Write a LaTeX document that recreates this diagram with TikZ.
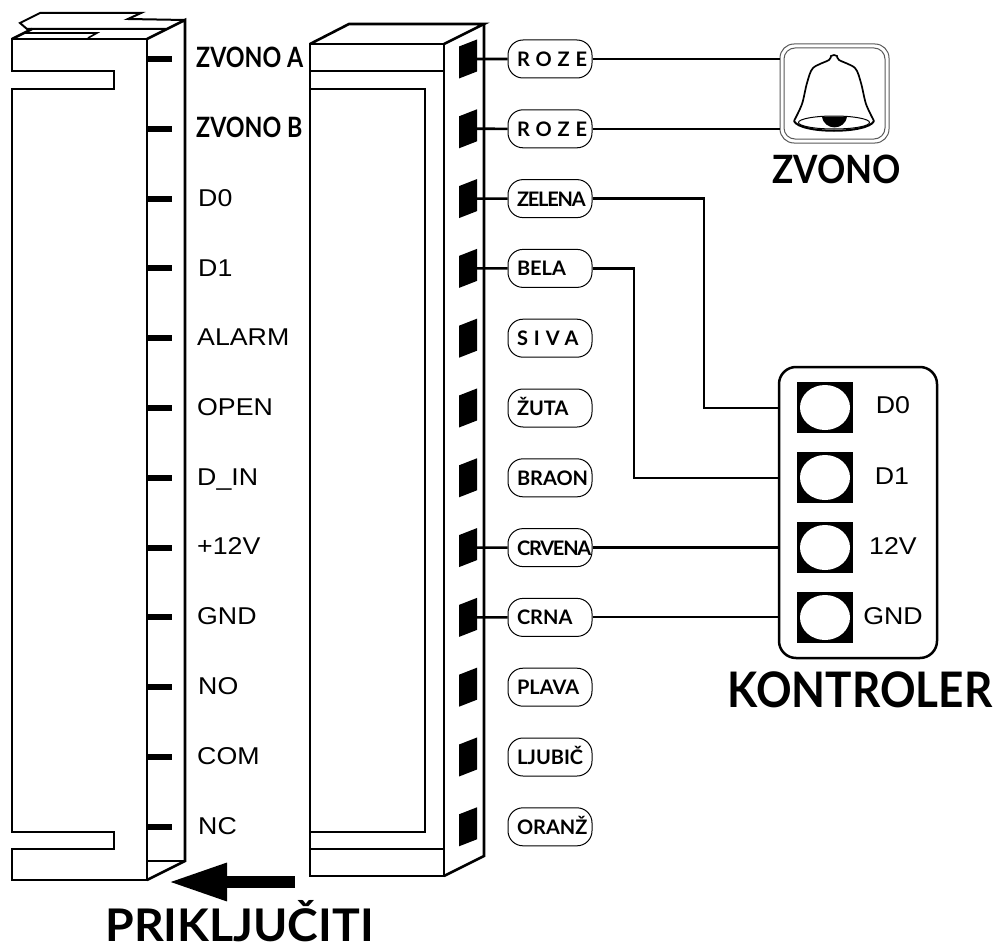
\documentclass[tikz,border=0pt]{standalone}
\usepackage{fontspec}
\setmainfont{Liberation Sans}[FakeStretch=1.1]
\newfontfamily\capfont{Lato}
\newfontfamily\titlefont{Lato}[FakeStretch=0.9]
\newfontfamily\pinfont{Lato}[FakeStretch=0.83]
\newfontfamily\longfont{Lato}[FakeStretch=1.03]
\usetikzlibrary{arrows.meta,positioning,shapes.geometric}
\tikzset{
  bd/.style   = { line width=2.6pt, line join=miter },
  wire/.style = { line width=2.6pt },
  tk/.style   = { fill=black, minimum width=25pt, minimum height=6pt, inner sep=0pt },
  slot/.style = { fill=black, minimum width=18pt, minimum height=32pt, inner sep=0pt, yslant=0.39, transform shape },
  lbl/.style  = { anchor=base west, inner sep=0pt, font=\fontsize{24.3}{26}\selectfont },
  capl/.style = { anchor=base west, inner sep=0pt, font=\pinfont\bfseries\fontsize{28}{30}\selectfont },
  klbl/.style = { inner sep=0pt, font=\fontsize{24.3}{26}\selectfont },
  bigcap/.style = { anchor=base, inner sep=0pt, font=\titlefont\bfseries\fontsize{#1}{#1}\selectfont },
  pill/.style = { draw, line width=1pt, rounded corners=15pt, minimum width=84pt, minimum height=38pt,
    inner sep=0pt, text width=66pt, align=left, text height=15pt, text depth=0pt,
    font=\capfont\bfseries\fontsize{20}{22}\selectfont },
  wide/.style = { pill, font=\capfont\bfseries\fontsize{20}{22}\selectfont\addfontfeature{LetterSpace=30} },
  tight/.style = { pill, font=\capfont\bfseries\fontsize{20}{22}\selectfont\addfontfeature{LetterSpace=-6} },
  sq/.style   = { fill=black, minimum width=56pt, minimum height=51pt, inner sep=0pt },
  hole/.style = { fill=white, ellipse, minimum width=50pt, minimum height=45pt, inner sep=0pt }
}
\begin{document}
\begin{tikzpicture}[x=1pt,y=-1pt,node distance=69.8pt,on grid]
      \useasboundingbox (0,0) rectangle (994,950);
      % left block
      \draw[bd] (12,71) -- (12,39) -- (147,39) -- (147,880) -- (12,880) -- (12,849) -- (114,849) -- (114,832) -- (12,832) -- (12,89) -- (114,89) -- (114,71) -- cycle;
      \draw[bd] (147,39) -- (185,20) -- (185,861) -- (147,880);
      \draw[bd] (147,861) -- (185,861);
      \draw[bd] (12,39) -- (32,29);
      \draw[line width=2pt] (185,20) -- (128,19) -- (141,13) -- (40,13) -- (20,23) -- (27,29) -- (166,29);
      \draw[line width=1.6pt] (24,33) -- (97,33) -- (88,38);
      % right block
      \draw[bd] (310,44) rectangle (444,876);
      \draw[bd] (310,44) -- (349,24) -- (484,24) -- (444,44);
      \draw[bd] (484,24) -- (484,856) -- (444,876);
      \draw[bd] (310,71) -- (444,71);
      \draw[bd] (310,849) -- (444,849);
      \draw[bd] (310,89) -- (425,89) -- (425,832) -- (310,832);
      % ticks
      \node[tk] (t1) at (159.5,59) {};
      \node[tk, below of=t1] (t2) {};
      \node[tk, below of=t2] (t3) {};
      \node[tk, below of=t3] (t4) {};
      \node[tk, below of=t4] (t5) {};
      \node[tk, below of=t5] (t6) {};
      \node[tk, below of=t6] (t7) {};
      \node[tk, below of=t7] (t8) {};
      \node[tk, below of=t8] (t9) {};
      \node[tk, below of=t9] (t10) {};
      \node[tk, below of=t10] (t11) {};
      \node[tk, below of=t11] (t12) {};
      % pin names
      \node[capl] (l1) at (196,68) {ZVONO A};
      \node[capl] (l2) at (196,137) {ZVONO B};
      \node[lbl] (l3) at (198,206) {D0};
      \node[lbl] (l4) at (198,276) {D1};
      \node[lbl] (l5) at (197,345) {ALARM};
      \node[lbl] (l6) at (197,415) {OPEN};
      \node[lbl] (l7) at (197,485) {D\_IN};
      \node[lbl] (l8) at (197,554) {+12V};
      \node[lbl] (l9) at (197,624) {GND};
      \node[lbl] (l10) at (198,694) {NO};
      \node[lbl] (l11) at (197,764) {COM};
      \node[lbl] (l12) at (198,834) {NC};
      % slots
      \node[slot] (s1) at (468,59) {};
      \node[slot] (s2) at (468,128.8) {};
      \node[slot] (s3) at (468,198.6) {};
      \node[slot] (s4) at (468,268.4) {};
      \node[slot] (s5) at (468,338.2) {};
      \node[slot] (s6) at (468,408) {};
      \node[slot] (s7) at (468,477.8) {};
      \node[slot] (s8) at (468,547.6) {};
      \node[slot] (s9) at (468,617.4) {};
      \node[slot] (s10) at (468,687.2) {};
      \node[slot] (s11) at (468,757) {};
      \node[slot] (s12) at (468,826.8) {};
      % colour names
      \node[wide] (p1) at (550,59) {ROZE};
      \node[wide, below of=p1] (p2) {ROZE};
      \node[tight, below of=p2] (p3) {ZELENA};
      \node[pill, below of=p3] (p4) {BELA};
      \node[wide, below of=p4] (p5) {SIVA};
      \node[pill, below of=p5] (p6) {ŽUTA};
      \node[pill, below of=p6] (p7) {BRAON};
      \node[tight, below of=p7] (p8) {CRVENA};
      \node[pill, below of=p8] (p9) {CRNA};
      \node[pill, below of=p9] (p10) {PLAVA};
      \node[pill, below of=p10] (p11) {LJUBIČ};
      \node[pill, below of=p11] (p12) {ORANŽ};
      % bell
      \node[draw=black!65, line width=1pt, rounded corners=14pt, minimum width=109pt, minimum height=99pt] (bell) at (834.5,93.5) {};
      \node[draw=black!65, line width=1pt, rounded corners=11pt, minimum width=101pt, minimum height=91pt] (bellin) at (834.5,93.5) {};
      \draw[line width=1.7pt] plot[smooth] coordinates {(794,121) (802,104) (807,83) (813,68) (829,60) (831,56) (834,55) (837,56) (839,60) (855,68) (861,83) (866,104) (874,121)};
      \draw[line width=1pt] (834,122.5) ellipse (35.5 and 6.5);
      \draw[line width=2pt] (794,121) .. controls (800,134) and (868,134) .. (874,121);
      \fill (822,116.5) .. controls (824,131) and (845,131) .. (847,116.5) -- cycle;
      \node[bigcap=39] (zv) at (836.5,183) {ZVONO};
      % controller
      \node[draw, line width=2.5pt, rounded corners=17pt, minimum width=158pt, minimum height=291pt] (kbox) at (858,512.5) {};
      \node[sq] (h1) at (825,407.5) {};
      \node[sq, below of=h1, node distance=70pt] (h2) {};
      \node[sq, below of=h2, node distance=70pt] (h3) {};
      \node[sq, below of=h3, node distance=70pt] (h4) {};
      \node[hole] (e1) at (h1) {};
      \node[hole] (e2) at (h2) {};
      \node[hole] (e3) at (h3) {};
      \node[hole] (e4) at (h4) {};
      \node[klbl] (k1) at (893,405) {D0};
      \node[klbl] (k2) at (892,476) {D1};
      \node[klbl] (k3) at (893,546) {12V};
      \node[klbl] (k4) at (893,616) {GND};
      \node[bigcap=49] (kn) at (860,707) {KONTROLER};
      \node[anchor=base, inner sep=0pt, font=\longfont\bfseries\fontsize{45}{45}\selectfont] (pr) at (239.5,941) {PRIKLJUČITI};
      % wires
      \coordinate (j1) at (704,408);
      \coordinate (j2) at (634,478);
      \path[wire] (s1) edge (p1);
      \path[wire] (s2) edge (p2);
      \path[wire] (s3) edge (p3);
      \path[wire] (s4) edge (p4);
      \path[wire] (s8) edge (p8);
      \path[wire] (s9) edge (p9);
      \draw[wire] (p1) -- (p1 -| bell.west);
      \draw[wire] (p2) -- (p2 -| bell.west);
      \draw[wire] (p3) -| (j1) -- (j1 -| kbox.west);
      \draw[wire] (p4) -| (j2) -- (j2 -| kbox.west);
      \draw[wire] (p8) -- (p8 -| kbox.west);
      \draw[line width=2pt] (p9) -- (p9 -| kbox.west);
      % arrow
      \coordinate (a1) at (295,882);
      \coordinate (a2) at (168,882);
      \draw[line width=12pt, -{Triangle[length=59pt,width=35pt]}] (a1) -- (a2);
    \end{tikzpicture}
\end{document}
